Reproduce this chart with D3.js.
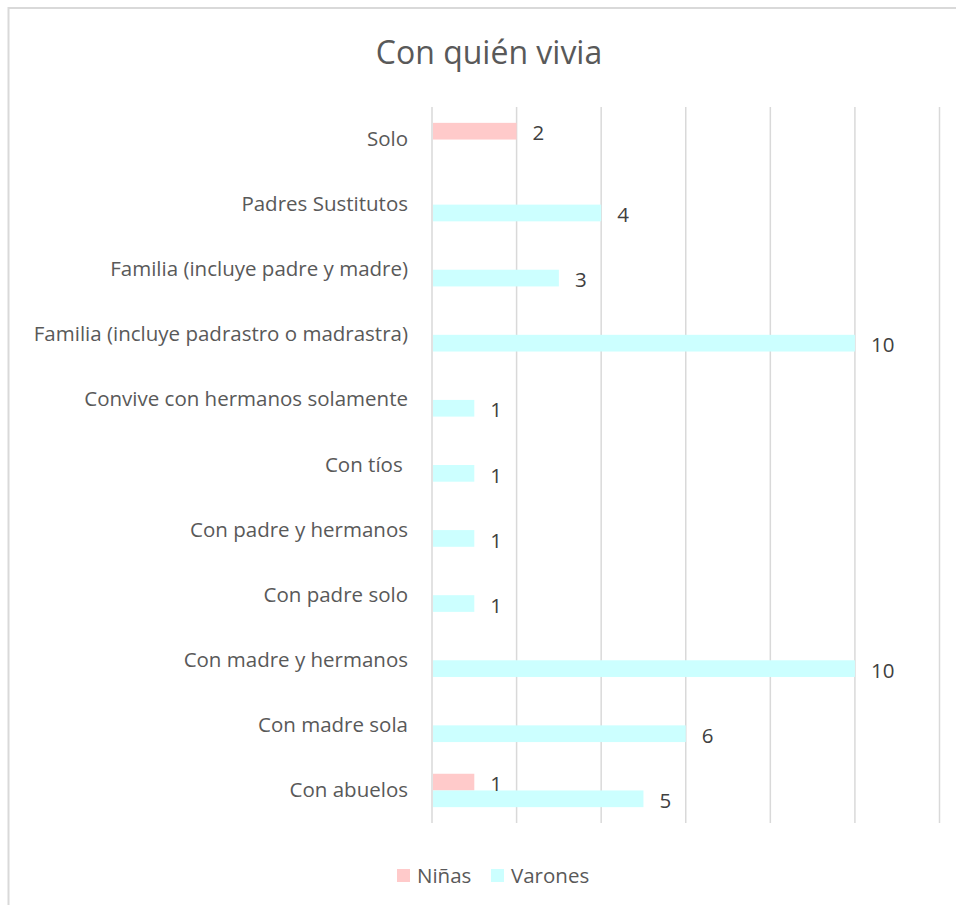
<!DOCTYPE html>
<html>
<head>
<meta charset="utf-8">
<script src="https://cdn.jsdelivr.net/npm/d3@7"></script>
<style>
  body { margin: 0; background: #fff; }
  text { font-family: "Open Sans", sans-serif; }
</style>
</head>
<body>
<div id="chart"></div>
<script>
// categories, top to bottom
const categories = [
  "Solo",
  "Padres Sustitutos",
  "Familia (incluye padre y madre)",
  "Familia (incluye padrastro o madrastra)",
  "Convive con hermanos solamente",
  "Con tíos ",
  "Con padre y hermanos",
  "Con padre solo",
  "Con madre y hermanos",
  "Con madre sola",
  "Con abuelos"
];
const series = ["Niñas", "Varones"];
const ninas   = [2, null, null, null, null, null, null, null, null, null, 1];
const varones = [null, 4, 3, 10, 1, 1, 1, 1, 10, 6, 5];
const xTicks = [0, 2, 4, 6, 8, 10, 12];
const colors = ["#ffcaca", "#ccffff"];

const W = 956, H = 905;
const plot = {left: 432, right: 939.5, top: 107, bottom: 823};

const svg = d3.select("#chart")
  .append("svg")
  .attr("width", W)
  .attr("height", H);

// chart border
svg.append("rect")
  .attr("x", 8.5).attr("y", 8)
  .attr("width", W + 10).attr("height", H + 10)
  .attr("fill", "none")
  .attr("stroke", "#d9d9d9")
  .attr("stroke-width", 2);

// title
svg.append("text")
  .attr("x", 489).attr("y", 64)
  .attr("text-anchor", "middle")
  .style("font-size", "32px")
  .attr("fill", "#595959")
  .text("Con quién vivia");

const x = d3.scaleLinear()
  .domain([0, 12])
  .range([plot.left, plot.right]);

const y = d3.scaleBand()
  .domain(categories)
  .range([plot.top, plot.bottom])
  .paddingInner(0.487)
  .paddingOuter(0.2435);

const ySub = d3.scaleBand()
  .domain(series)
  .range([0, y.bandwidth()]);

// gridlines
svg.append("g")
  .selectAll("line")
  .data(xTicks)
  .join("line")
  .attr("x1", d => x(d)).attr("x2", d => x(d))
  .attr("y1", plot.top).attr("y2", plot.bottom)
  .attr("stroke", "#d9d9d9")
  .attr("stroke-width", 1.5);

// category axis (labels only)
const yAxis = svg.append("g")
  .attr("transform", `translate(${plot.left},0)`)
  .call(d3.axisLeft(y).tickSize(0).tickPadding(24));
yAxis.select(".domain").remove();
yAxis.selectAll("text")
  .style("font-size", "20.5px")
  .style("font-family", "'Open Sans', sans-serif")
  .style("white-space", "pre")
  .attr("fill", "#595959");

// bars
const rows = categories.map((c, i) => ({cat: c, vals: [ninas[i], varones[i]]}));
const flat = [];
rows.forEach(r => r.vals.forEach((v, j) => {
  if (v != null) flat.push({cat: r.cat, key: series[j], value: v, color: colors[j]});
}));

svg.append("g")
  .selectAll("rect")
  .data(flat)
  .join("rect")
  .attr("x", x(0) + 1)
  .attr("y", d => y(d.cat) + ySub(d.key))
  .attr("width", d => x(d.value) - x(0) - 1)
  .attr("height", ySub.bandwidth())
  .attr("fill", d => d.color);

// data labels
svg.append("g")
  .selectAll("text")
  .data(flat)
  .join("text")
  .attr("x", d => x(d.value) + 16)
  .attr("y", d => y(d.cat) + ySub(d.key) + ySub.bandwidth() / 2 + 2)
  .attr("dy", "0.35em")
  .style("font-size", "20.5px")
  .attr("fill", "#404040")
  .text(d => d.value);

// legend
const legendX = [397, 491];
const legend = svg.append("g")
  .selectAll("g")
  .data(series)
  .join("g")
  .attr("transform", (d, i) => `translate(${legendX[i]},869)`);
legend.append("rect")
  .attr("width", 13).attr("height", 13)
  .attr("fill", (d, i) => colors[i]);
legend.append("text")
  .attr("x", 20).attr("y", 6.5)
  .attr("dy", "0.35em")
  .style("font-size", "20.5px")
  .attr("fill", "#595959")
  .text(d => d);
</script>
</body>
</html>
